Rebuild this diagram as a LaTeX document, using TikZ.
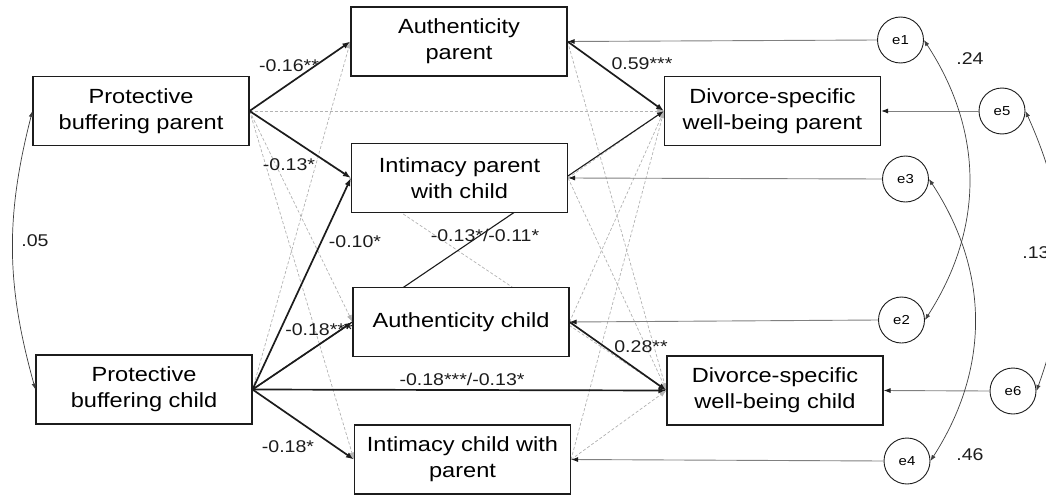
\documentclass[tikz,border=0pt]{standalone}
\usepackage{fontspec}
\setmainfont{Liberation Sans}[FakeStretch=1.15]
\usepackage{xcolor}
\usetikzlibrary{arrows.meta}
\pgfdeclarelayer{back}
\pgfsetlayers{back,main}
\definecolor{ink}{HTML}{1C1C1C}
\definecolor{rule}{HTML}{808080}
\definecolor{faint}{HTML}{B2B2B2}
\tikzset{
  box/.style={draw=ink, line width=1.1pt, fill=white, minimum width=216pt, minimum height=69pt,
    inner sep=0pt, align=center, font=\fontsize{20.5}{26}\selectfont},
  err/.style={circle, draw=ink, line width=0.9pt, fill=white, minimum size=46pt, inner sep=0pt,
    font=\fontsize{13}{13}\selectfont},
  sig/.style={draw=ink, line width=1.7pt, -{Latex[length=8pt,width=6pt]}},
  hid/.style={draw=ink, line width=1.1pt, -{Latex[length=7pt,width=5pt]}},
  ns/.style={draw=faint, line width=0.7pt, dash pattern=on 3pt off 2pt, -{Latex[length=7pt,width=5pt,fill=faint]}},
  res/.style={draw=rule, line width=0.9pt, -{Latex[length=7pt,width=5pt,color=ink]}},
  cov/.style={draw=ink!85, line width=0.7pt, {Latex[length=6pt,width=4.5pt]}-{Latex[length=6pt,width=4.5pt]}},
  lab/.style={text=ink, inner sep=0pt, font=\fontsize{17}{17}\selectfont},
}
\begin{document}
\begin{tikzpicture}[x=1pt, y=-1pt]
  \useasboundingbox (0,0) rectangle (1046,495);

  % predictors
  \node[box] (pbp) at (141,111)   {Protective\\buffering parent};
  \node[box] (pbc) at (144,389.5) {Protective\\buffering child};
  % mediators
  \node[box] (ap) at (459,41.5)   {Authenticity\\parent};
  \node[box] (ip) at (459.5,178)  {Intimacy parent\\with child};
  \node[box] (ac) at (461,322)    {Authenticity child};
  \node[box] (ic) at (462.5,459.5){Intimacy child with\\parent};
  % outcomes
  \node[box] (dwp) at (772.5,111) {Divorce-specific\\well-being parent};
  \node[box] (dwc) at (775,390.5) {Divorce-specific\\well-being child};

  % residuals
  \node[err] (e1) at (900.5,40)  {e1};
  \node[err] (e3) at (905.5,179) {e3};
  \node[err] (e2) at (901.5,320) {e2};
  \node[err] (e4) at (907,461)   {e4};
  \node[err] (e5) at (1002,111)  {e5};
  \node[err] (e6) at (1013,391)  {e6};

  \begin{pgfonlayer}{back}
    % non-significant paths
    \foreach \t in {ac,ic}
      \draw[ns] (pbp.east) -- (\t.west);
    \draw[ns] (pbp.east) -- (dwp.west);
    \draw[ns] (pbp.east) -- (dwc.west);
    \draw[ns] (pbc.east) -- (ap.west);
    \foreach \m/\o in {ap/dwc,ip/dwc,ip/dwp,ac/dwp,ic/dwp,ic/dwc}
      \draw[ns] (\m.east) -- (\o.west);
    % path hidden behind the mediators
    \draw[hid] (pbc.east) -- (dwp.west);
  \end{pgfonlayer}

  % significant paths
  \draw[sig] (pbp.east) -- (ap.west);
  \draw[sig] (pbp.east) -- (ip.west);
  \draw[sig] (pbc.east) -- (ip.west);
  \draw[sig] (pbc.east) -- (ac.west);
  \draw[sig] (pbc.east) -- (ic.west);
  \draw[sig] (pbc.east) -- (dwc.west);
  \draw[sig] (ap.east) -- (dwp.west);
  \draw[sig] (ac.east) -- (dwc.west);

  % residual arrows
  \foreach \e/\v in {e1/ap,e3/ip,e2/ac,e4/ic,e5/dwp,e6/dwc}
    \draw[res] (\e.west) -- (\v.east);

  % covariances
  \draw[cov] (pbp.west) to[bend right=15] (pbc.west);
  \draw[cov] (e1.east) to[bend left=33] (e2.east);
  \draw[cov] (e3.east) to[bend left=33] (e4.east);
  \draw[cov] (e5.east) to[bend left=22] (e6.east);

  % estimates
  \node[lab] (l1) at (289,66)   {-0.16**};
  \node[lab] (l2) at (289,165)  {-0.13*};
  \node[lab] (l3) at (355,242)  {-0.10*};
  \node[lab] (l4) at (319,330)  {-0.18***};
  \node[lab] (l5) at (288,447)  {-0.18*};
  \node[lab] (l6) at (462,379)  {-0.18***/-0.13*};
  \node[lab] (l7) at (485,235)  {-0.13*/-0.11*};
  \node[lab] (l8) at (642,64)   {0.59***};
  \node[lab] (l9) at (641,347)  {0.28**};
  \node[lab] (c1) at (35,241)   {.05};
  \node[lab] (c2) at (970,59)   {.24};
  \node[lab] (c3) at (970,455)  {.46};
  \node[lab] (c4) at (1036,253) {.13};
\end{tikzpicture}
\end{document}
